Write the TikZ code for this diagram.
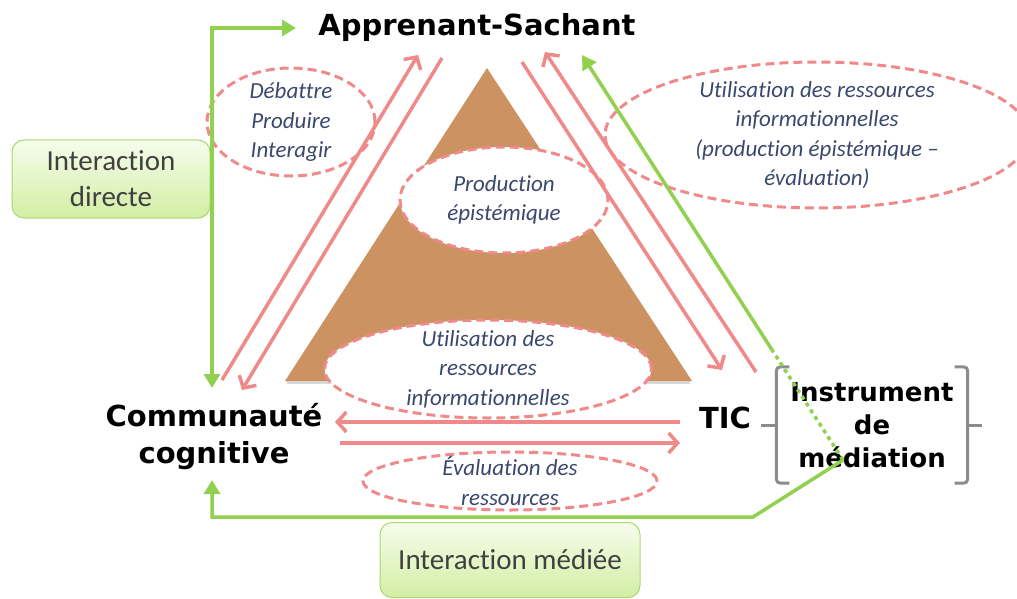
\documentclass[tikz,border=0pt]{standalone}
\usepackage{fontspec}
\newfontfamily\headfont{DejaVu Sans}
\newfontfamily\bodyfont[Ligatures=NoCommon]{Carlito}
\usetikzlibrary{shapes.geometric,arrows.meta,calc}
\definecolor{pinkline}{RGB}{240,138,138}
\definecolor{pyramid}{RGB}{204,146,98}
\definecolor{linkgreen}{RGB}{146,208,80}
\definecolor{notetext}{RGB}{59,72,110}
\definecolor{boxtop}{RGB}{246,252,236}
\definecolor{boxbottom}{RGB}{210,239,164}
\definecolor{boxedge}{RGB}{170,216,110}
\definecolor{bracketgray}{RGB}{140,140,140}
\tikzset{
  agent/.style={font=\headfont\bfseries\fontsize{29}{37}\selectfont, align=center, inner sep=0pt},
  instr/.style={agent, font=\headfont\bfseries\fontsize{26}{33}\selectfont, minimum width=191pt, minimum height=116pt},
  note/.style={font=\bodyfont\itshape\fontsize{23}{29.5}\selectfont, text=notetext, align=center, inner sep=0pt},
  bubble/.style={ellipse, draw=pinkline, line width=3pt, dash pattern=on 9pt off 5pt, inner sep=0pt},
  flow/.style={draw=pinkline, line width=3.5pt, -{Straight Barb[length=9pt,width=20pt]}},
  link/.style={draw=linkgreen, line width=3.5pt},
  linkbox/.style={rectangle, rounded corners=12pt, draw=boxedge, line width=1pt, top color=boxtop, bottom color=boxbottom, font=\bodyfont\fontsize{29}{36}\selectfont, text=black!75, align=center},
  bracket/.style={draw=bracketgray, line width=3pt, rounded corners=4pt}
}
\begin{document}
\begin{tikzpicture}[x=1pt, y=-1pt]
\useasboundingbox (0,0) rectangle (1017,599);
% pyramid
\fill[black!15] (287,381) rectangle (690,384);
\fill[pyramid] (487,68) -- (692,381) -- (285,381) -- cycle;

% dashed bubbles
\node[bubble, minimum width=168pt, minimum height=108pt] (b1) at (291,122) {};
\node[bubble, fill=white, minimum width=208pt, minimum height=106pt] (b2) at (504,200) {};
\node[bubble, fill=white, minimum width=327pt, minimum height=98pt] (b3) at (488,369) {};
\node[bubble, minimum width=294pt, minimum height=58pt] (b4) at (510,481) {};
\node[bubble, minimum width=424pt, minimum height=146pt] (b5) at (817,135) {};

% poles
\node[agent] (as) at (477,28) {Apprenant-Sachant};
\node[agent] (cc) at (214,437) {Communauté\\cognitive};
\node[agent] (tic) at (725,418) {TIC};
\node[instr] (im) at (872,425) {Instrument\\de\\médiation};
\draw[bracket] ([xshift=13pt]im.north west) -- (im.north west) -- (im.south west) -- ([xshift=13pt]im.south west);
\draw[bracket] ([xshift=-13pt]im.north east) -- (im.north east) -- (im.south east) -- ([xshift=-13pt]im.south east);
\draw[bracket] (im.west) -- ++(-15,0);
\draw[bracket] (im.east) -- ++(14,0);

% interaction boxes
\node[linkbox, minimum width=198pt, minimum height=78pt] (direct) at (111,179) {Interaction\\directe};
\node[linkbox, minimum width=260pt, minimum height=75pt] (mediee) at (510,560) {Interaction médiée};

% pink flows
\coordinate (la1) at (222,380); \coordinate (la2) at (418,55);
\coordinate (lb1) at (442,58);  \coordinate (lb2) at (242,390);
\coordinate (rc1) at (522,62);  \coordinate (rc2) at (722,370);
\coordinate (rd1) at (756,372); \coordinate (rd2) at (545,52);
\coordinate (he1) at (680,422); \coordinate (he2) at (335,422);
\coordinate (hf1) at (340,443); \coordinate (hf2) at (680,443);
\path[flow] (la1) -- (la2);
\path[flow] (lb1) -- (lb2);
\path[flow] (rc1) -- (rc2);
\path[flow] (rd1) -- (rd2);
\path[flow] (he1) -- (he2);
\path[flow] (hf1) -- (hf2);

% green links
\coordinate (asin) at (296,28);
\coordinate (ccin) at (212,388);
\coordinate (ccfoot) at (212,480);
\coordinate (mbend) at (753,517);
\coordinate (mfoot) at (843,460);
\coordinate (astip) at (582,55);
\coordinate (mbreak) at ($(mfoot)!0.267!(astip)$);
\draw[link, {Triangle[length=14pt,width=16pt]}-{Triangle[length=14pt,width=16pt]}] (asin) -| (ccin);
\draw[link, {Triangle[length=14pt,width=16pt]}-] (ccfoot) |- (mbend) -- (mfoot);
\draw[link, dash pattern=on 4pt off 4pt] (mfoot) -- (mbreak);
\draw[link, -{Triangle[length=14pt,width=16pt]}] (mbreak) -- (astip);

% labels
\node[note] at (b1) {Débattre\\Produire\\Interagir};
\node[note] at (b2) {Production\\épistémique};
\node[note] at (b3) {Utilisation des\\ressources\\informationnelles};
\node[note] at (b4) {Évaluation des\\ressources};
\node[note] at (b5) {Utilisation des ressources\\informationnelles\\(production épistémique –\\évaluation)};
\end{tikzpicture}
\end{document}
